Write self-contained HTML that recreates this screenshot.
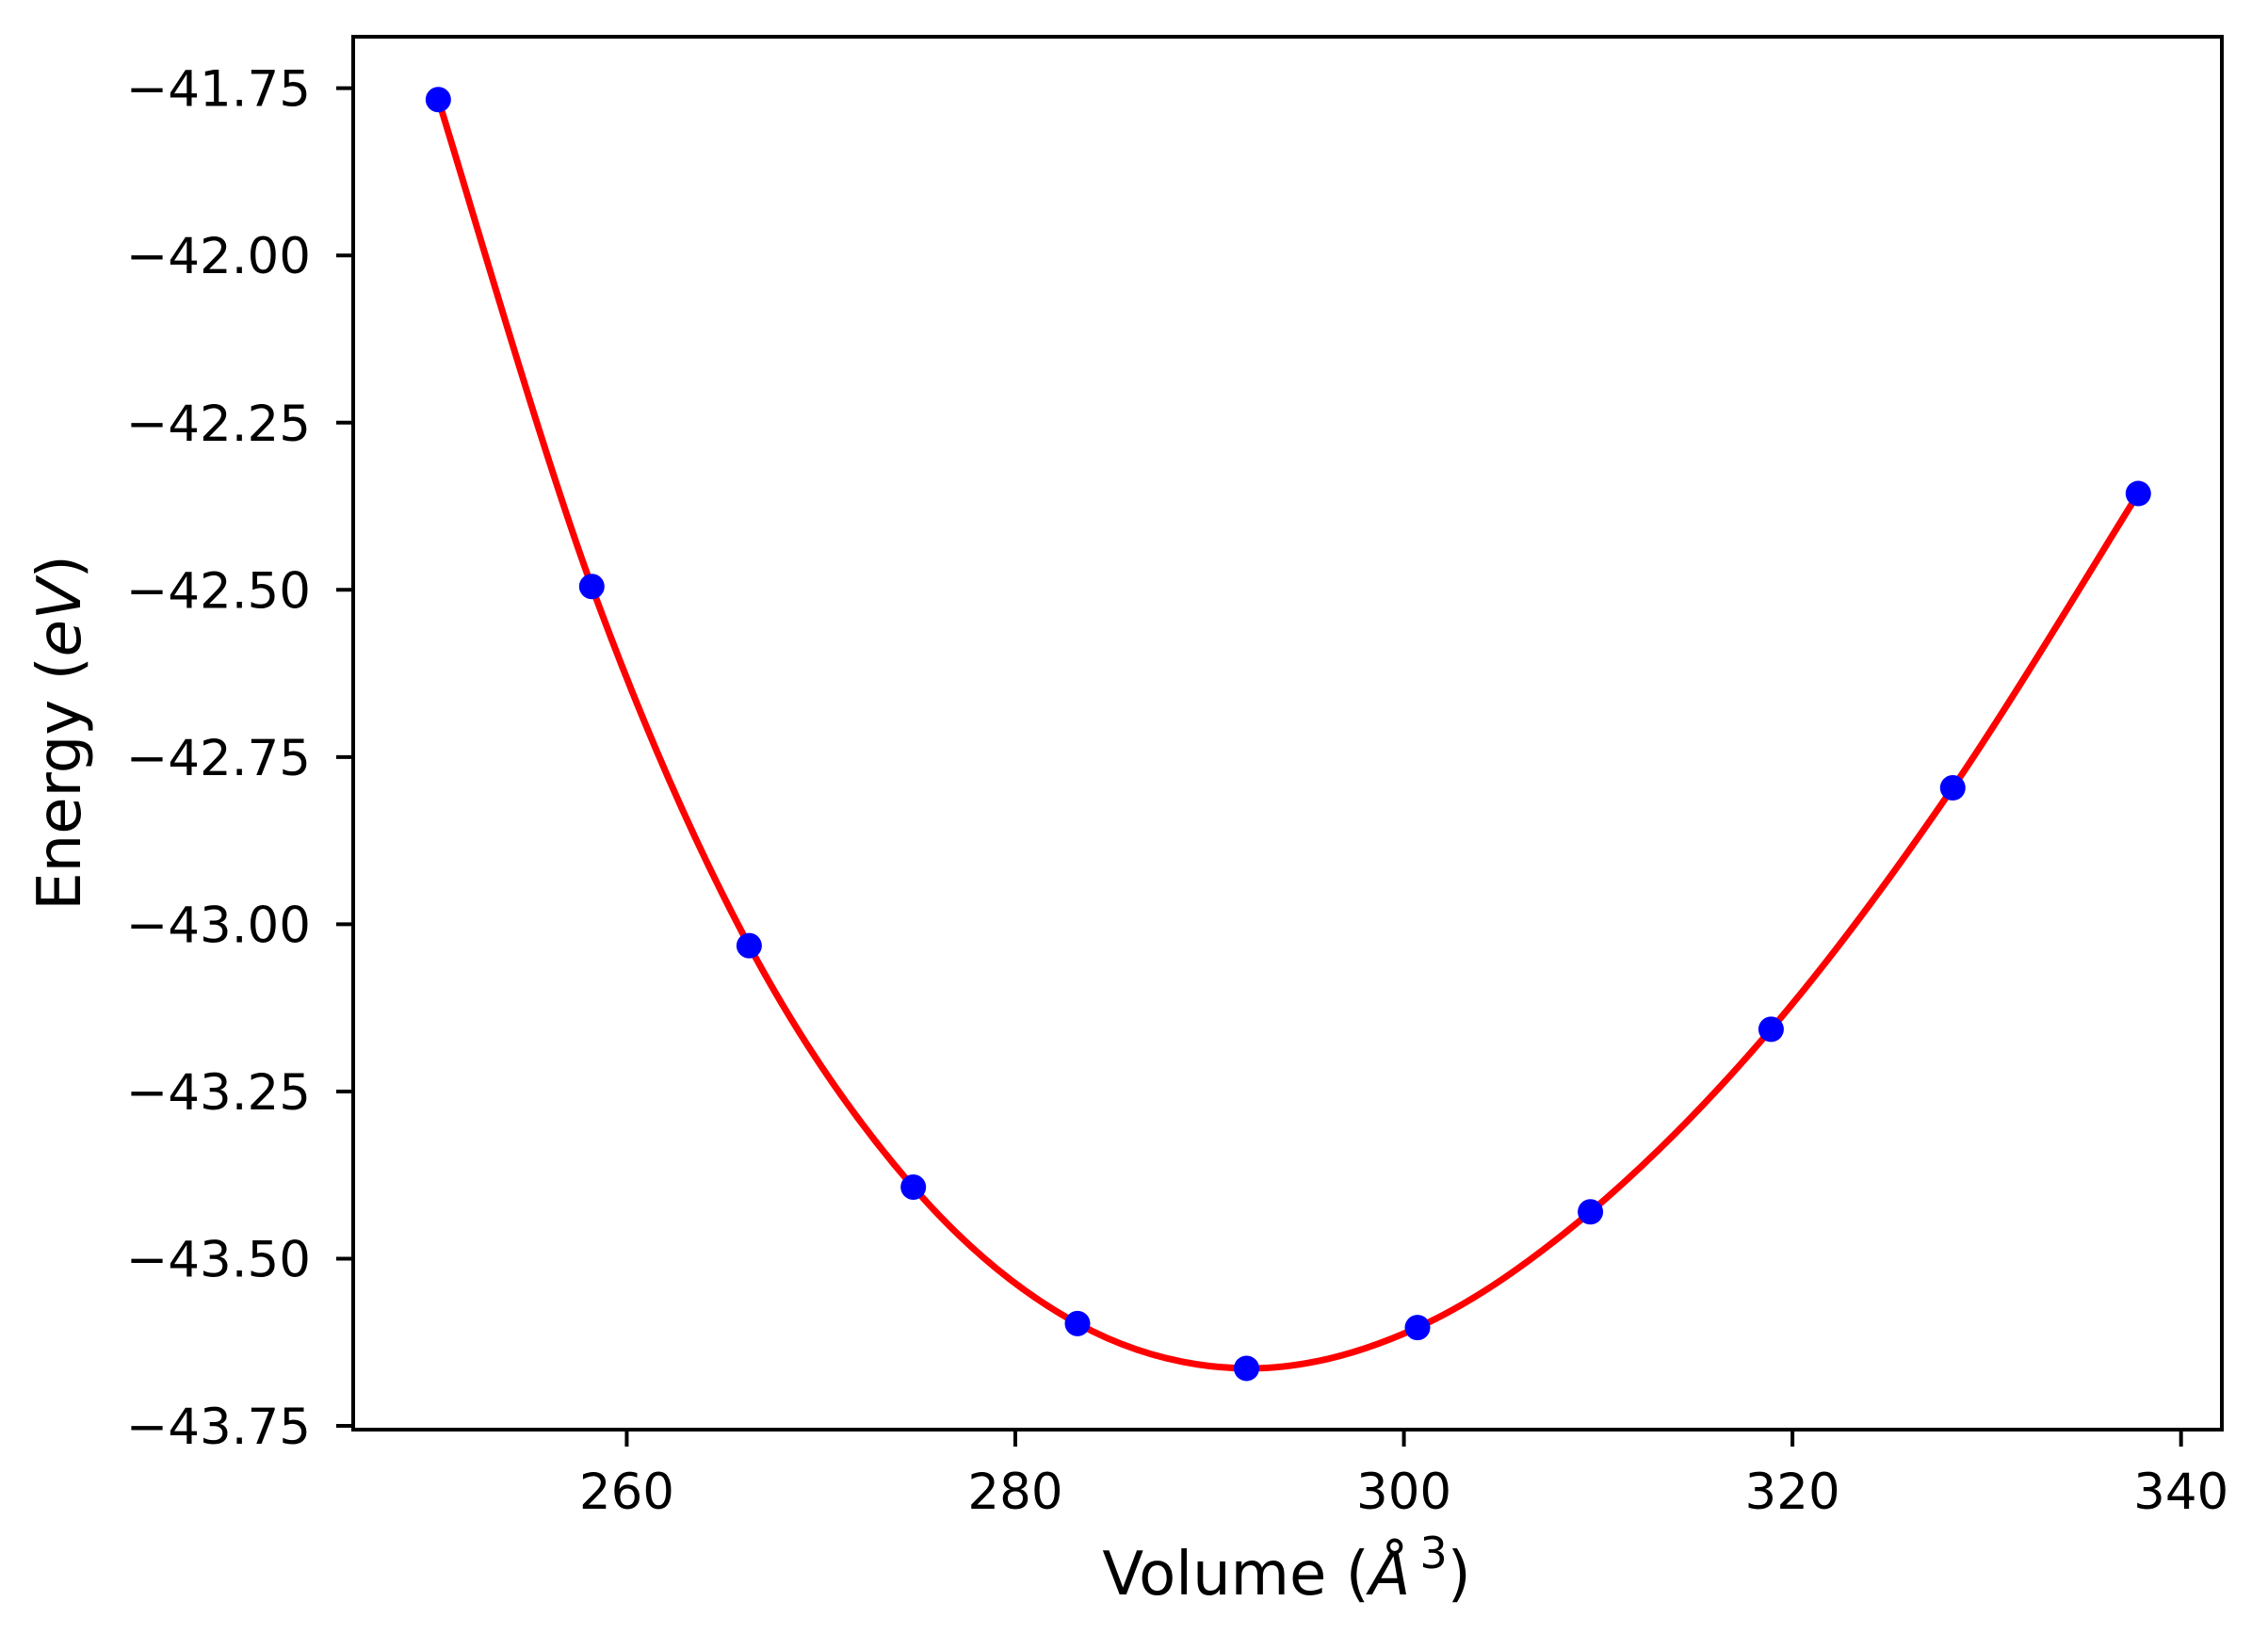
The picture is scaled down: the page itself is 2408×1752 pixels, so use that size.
<!DOCTYPE html>
<html><head><meta charset="utf-8"><style>
html,body{margin:0;padding:0;background:#fff;}
svg text{font-family:"DejaVu Sans","Liberation Sans",sans-serif;fill:#000;}
</style></head><body>
<svg id="chart" width="2408" height="1747" viewBox="0 0 2408 1747" xmlns="http://www.w3.org/2000/svg">
<rect width="2408" height="1747" fill="#fff"/>
<g id="plot"></g>
<g id="axes"></g>
<text x="1366" y="1693" font-size="64" text-anchor="middle">Volume (<tspan font-style="italic">Å</tspan><tspan font-size="46" dx="10" dy="-28">3</tspan><tspan dy="28">)</tspan></text>
<text transform="translate(85,778) rotate(-90)" font-size="64" text-anchor="middle">Energy (<tspan font-style="italic">eV</tspan>)</text>
</svg>
<script>
const volumes = [250.3, 258.2, 266.3, 274.75, 283.2, 291.9, 300.7, 309.6, 318.9, 328.25, 337.8];
const energies = [-41.767, -42.495, -43.032, -43.393, -43.597, -43.664, -43.603, -43.430, -43.157, -42.796, -42.356];
const xTicks = [260, 280, 300, 320, 340];
const yTicks = [-41.75, -42.00, -42.25, -42.50, -42.75, -43.00, -43.25, -43.50, -43.75];

const L=375, R=2359, T=39, B=1518;
const xMin=245.92, xMax=342.1, yMin=-43.7556, yMax=-41.673;
const sx=v=>L+(v-xMin)/(xMax-xMin)*(R-L);
const sy=v=>B-(v-yMin)/(yMax-yMin)*(B-T);
const NS="http://www.w3.org/2000/svg";
const plot=document.getElementById('plot'), axes=document.getElementById('axes');
function mk(tag,attrs,parent){const e=document.createElementNS(NS,tag);for(const k in attrs)e.setAttribute(k,attrs[k]);parent.appendChild(e);return e;}

const pts=volumes.map((v,i)=>[sx(v),sy(energies[i])]);
let d=`M${pts[0][0]},${pts[0][1]}`;
for(let i=0;i<pts.length-1;i++){
  const p0=pts[Math.max(0,i-1)],p1=pts[i],p2=pts[i+1],p3=pts[Math.min(pts.length-1,i+2)];
  const c1=[p1[0]+(p2[0]-p0[0])/6,p1[1]+(p2[1]-p0[1])/6];
  const c2=[p2[0]-(p3[0]-p1[0])/6,p2[1]-(p3[1]-p1[1])/6];
  d+=` C${c1[0]},${c1[1]} ${c2[0]},${c2[1]} ${p2[0]},${p2[1]}`;
}
const curve=mk('path',{d:d,fill:'none',stroke:'#ff0000','stroke-width':7},plot);


pts.forEach((p,i)=>{
  const c=mk('circle',{cx:p[0],cy:p[1],r:13.5,fill:'#0000ff'},plot);
  
  
});

const frame=mk('rect',{x:L,y:T,width:R-L,height:B-T,fill:'none',stroke:'#000','stroke-width':4},axes);



xTicks.forEach(t=>{
  const x=sx(t);
  const tk=mk('line',{x1:x,y1:B,x2:x,y2:B+18,stroke:'#000','stroke-width':4},axes);
  
  
  const tx=mk('text',{x:x,y:1602,'font-size':53,'text-anchor':'middle'},axes);
  tx.textContent=String(t);
  
  
});
yTicks.forEach(t=>{
  const y=sy(t);
  const tk=mk('line',{x1:L-18,y1:y,x2:L,y2:y,stroke:'#000','stroke-width':4},axes);
  
  
  const tx=mk('text',{x:L-45,y:y+19,'font-size':53,'text-anchor':'end'},axes);
  tx.textContent='\u2212'+Math.abs(t).toFixed(2);
  
  
});
</script>
</body></html>
